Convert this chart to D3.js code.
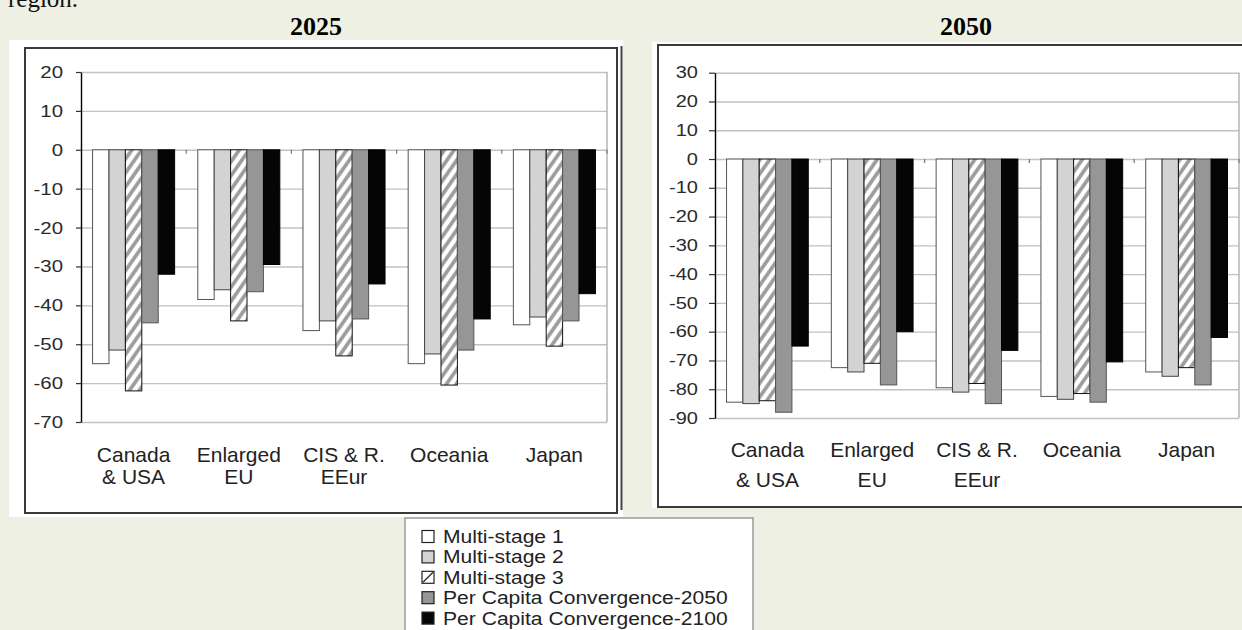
<!DOCTYPE html>
<html>
<head>
<meta charset="utf-8">
<script src="https://cdn.jsdelivr.net/npm/d3@7"></script>
<style>
  html, body { margin: 0; padding: 0; background: #eef0e3; }
  svg { display: block; font-family: "Liberation Sans", Arial, sans-serif; }
</style>
</head>
<body>
<svg id="chart" width="1242" height="630"></svg>
<script>
// --- Données ---
const categories = [["Canada", "& USA"], ["Enlarged", "EU"], ["CIS & R.", "EEur"], ["Oceania"], ["Japan"]];
const seriesNames = ["Multi-stage 1", "Multi-stage 2", "Multi-stage 3",
                     "Per Capita Convergence-2050", "Per Capita Convergence-2100"];

// une ligne par série, une valeur par région
const values2025 = [
    [-55, -38.5, -46.5, -55, -45],
    [-51.5, -36, -44, -52.5, -43],
    [-62, -44, -53, -60.5, -50.5],
    [-44.5, -36.5, -43.5, -51.5, -44],
    [-32, -29.5, -34.5, -43.5, -37]
];
const values2050 = [
    [-84.5, -72.5, -79.5, -82.5, -74],
    [-85, -74, -81, -83.5, -75.5],
    [-84, -71, -78, -81.5, -72.5],
    [-88, -78.5, -85, -84.5, -78.5],
    [-65, -60, -66.5, -70.5, -62]
];
const ticks2025 = [20, 10, 0, -10, -20, -30, -40, -50, -60, -70];
const ticks2050 = [30, 20, 10, 0, -10, -20, -30, -40, -50, -60, -70, -80, -90];

const seriesFill = ["#ffffff", "#d3d3d3", "url(#hatch)", "#969696", "#050505"];
const seriesStroke = ["#555", "#444", "#111", "#555", "#000"];

const svg = d3.select('#chart');

// motif hachuré
const defs = svg.append('defs');
const pat = defs.append('pattern')
    .attr('id', 'hatch')
    .attr('patternUnits', 'userSpaceOnUse')
    .attr('width', 8).attr('height', 8)
    .attr('patternTransform', 'rotate(35)');
pat.append('rect').attr('width', 8).attr('height', 8).attr('fill', '#fff');
pat.append('line').attr('x1', 2).attr('y1', 0).attr('x2', 2).attr('y2', 8)
    .attr('stroke', '#9a9a9a').attr('stroke-width', 3.6);

// texte coupé en haut (comme sur l'original)
svg.append('text')
    .attr('x', 8).attr('y', 7)
    .style('font-family', '"Liberation Serif", "Times New Roman", serif')
    .style('font-size', '25px')
    .style('fill', '#111')
    .text('region.');

function drawChart(cfg) {
    const g = svg.append('g');

    // fond blanc + cadre
    g.append('rect')
        .attr('x', cfg.panel[0]).attr('y', cfg.panel[1])
        .attr('width', cfg.panel[2]).attr('height', cfg.panel[3])
        .attr('fill', '#fff');
    g.append('rect')
        .attr('x', cfg.frame[0]).attr('y', cfg.frame[1])
        .attr('width', cfg.frame[2]).attr('height', cfg.frame[3])
        .attr('fill', 'none').attr('stroke', '#3a3a3a').attr('stroke-width', 2);

    // titre
    svg.append('text')
        .attr('x', cfg.titleX).attr('y', 35)
        .attr('text-anchor', 'middle')
        .style('font-family', '"Liberation Serif", "Times New Roman", serif')
        .style('font-size', '26px')
        .style('font-weight', '700')
        .style('fill', '#000')
        .text(cfg.title);

    const { left, right, top, bottom } = cfg.plot;

    const x0 = d3.scaleBand()
        .domain(d3.range(categories.length))
        .range([left, right])
        .paddingInner(0.22)
        .paddingOuter(0.11);
    const x1 = d3.scaleBand()
        .domain(d3.range(seriesNames.length))
        .range([0, x0.bandwidth()]);
    const y = d3.scaleLinear().domain(cfg.domain).range([bottom, top]);

    // grille
    g.append('g')
        .attr('transform', `translate(${left},0)`)
        .call(d3.axisLeft(y).tickValues(cfg.ticks).tickSize(-(right - left)).tickFormat(''))
        .call(a => a.select('.domain').remove())
        .selectAll('line')
        .attr('stroke', '#c2c2c2')
        .attr('stroke-width', 1.4);

    g.append('line')
        .attr('x1', right).attr('x2', right)
        .attr('y1', y(cfg.domain[1])).attr('y2', y(cfg.domain[0]))
        .attr('stroke', '#b0b0b0').attr('stroke-width', 1.4);

    // barres
    const barData = [];
    cfg.values.forEach((vals, s) => vals.forEach((v, c) => barData.push({ s, c, v })));

    g.append('g').selectAll('rect')
        .data(barData)
        .join('rect')
        .attr('x', d => x0(d.c) + x1(d.s))
        .attr('y', y(0))
        .attr('width', x1.bandwidth())
        .attr('height', d => y(d.v) - y(0))
        .attr('fill', d => seriesFill[d.s])
        .attr('stroke', d => seriesStroke[d.s])
        .attr('stroke-width', 1);

    // petites graduations de l'axe des catégories
    g.append('g').selectAll('line')
        .data(d3.range(1, categories.length + 1))
        .join('line')
        .attr('x1', i => left + i * x0.step())
        .attr('x2', i => left + i * x0.step())
        .attr('y1', y(0)).attr('y2', y(0) + 4)
        .attr('stroke', '#777').attr('stroke-width', 1.2);

    // axe Y (tiret simple comme dans Excel)
    const yAxis = g.append('g')
        .attr('transform', `translate(${left},0)`)
        .call(d3.axisLeft(y).tickValues(cfg.ticks).tickSize(cfg.tickLen).tickSizeOuter(0)
            .tickFormat(d => String(d)));
    yAxis.select('.domain').attr('stroke', '#000').attr('stroke-width', 1.4);
    yAxis.selectAll('.tick line').attr('stroke', '#333').attr('stroke-width', 1.2);
    yAxis.selectAll('.tick text')
        .attr('x', 0)
        .attr('transform', `translate(${-cfg.labelGap},0) scale(${cfg.tickStretch},1)`)
        .style('font-family', '"Liberation Sans", Arial, sans-serif')
        .style('font-size', cfg.tickFont + 'px')
        .style('fill', '#2a2a2a');

    // libellés des catégories
    const labels = g.append('g');
    categories.forEach((lines, i) => {
        const cx = x0(i) + x0.bandwidth() / 2;
        lines.forEach((txt, k) => {
            labels.append('text')
                .attr('transform', `translate(${cx},${bottom + cfg.catOffset + k * cfg.catLine}) scale(1.05,1)`)
                .attr('text-anchor', 'middle')
                .style('font-size', '20px')
                .style('fill', '#222')
                .text(txt);
        });
    });
}

drawChart({
    title: '2025', titleX: 316,
    panel: [9, 40, 614, 477],
    frame: [25, 48, 592, 465],
    plot: { left: 81, right: 607, top: 72, bottom: 422 },
    domain: [-70, 20], ticks: ticks2025, values: values2025,
    tickLen: 5, labelGap: 18, tickFont: 17, tickStretch: 1.2,
    catOffset: 40, catLine: 21.5
});

// double trait à droite du premier cadre
svg.append('line')
    .attr('x1', 621.5).attr('x2', 621.5).attr('y1', 46).attr('y2', 510)
    .attr('stroke', '#444').attr('stroke-width', 2);

drawChart({
    title: '2050', titleX: 966,
    panel: [652, 42, 600, 466],
    frame: [658, 45, 600, 462],
    plot: { left: 715, right: 1239, top: 72.7, bottom: 418 },
    domain: [-90, 30], ticks: ticks2050, values: values2050,
    tickLen: 6, labelGap: 17, tickFont: 16, tickStretch: 1.25,
    catOffset: 39, catLine: 30
});

// --- Légende ---
const legend = svg.append('g');
legend.append('rect')
    .attr('x', 405).attr('y', 518)
    .attr('width', 348).attr('height', 130)
    .attr('fill', '#fff')
    .attr('stroke', '#9a9a9a').attr('stroke-width', 1.5);

const legendRows = legend.selectAll('g.row')
    .data(seriesNames)
    .join('g')
    .attr('class', 'row')
    .attr('transform', (d, i) => `translate(422,${536.5 + i * 20.4})`);

legendRows.append('rect')
    .attr('x', 0).attr('y', -6)
    .attr('width', 12).attr('height', 12)
    .attr('fill', (d, i) => i === 2 ? '#fff' : seriesFill[i])
    .attr('stroke', '#222').attr('stroke-width', 1.2);

legendRows.filter((d, i) => i === 2)
    .append('line')
    .attr('x1', 1).attr('y1', 5).attr('x2', 11).attr('y2', -5)
    .attr('stroke', '#333').attr('stroke-width', 1.5);

legendRows.append('text')
    .attr('transform', 'translate(21,6.5) scale(1.14,1)')
    .style('font-size', '18.5px')
    .style('fill', '#222')
    .text(d => d);
</script>
</body>
</html>
